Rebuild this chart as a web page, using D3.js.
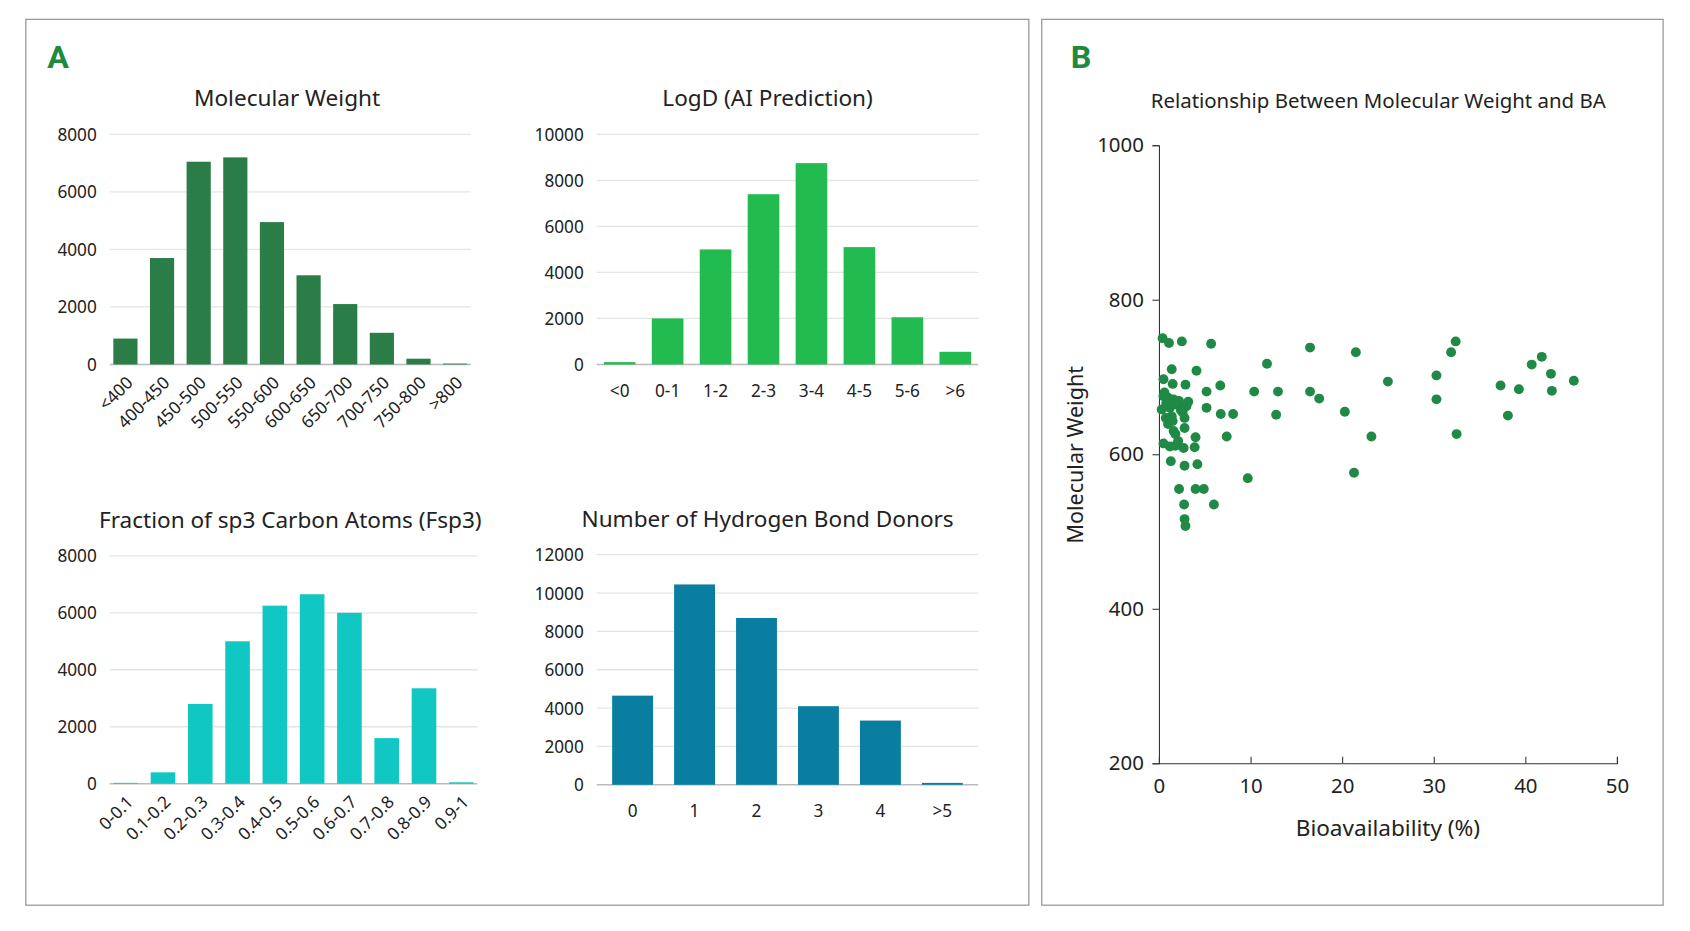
<!DOCTYPE html>
<html><head><meta charset="utf-8">
<script src="https://cdn.jsdelivr.net/npm/d3@7/dist/d3.min.js"></script>
<style>
body{margin:0;background:#fff}
text{font-family:"Noto Sans",sans-serif;fill:#222}
</style></head><body>
<svg id="c" width="1690" height="931" viewBox="0 0 1568 866"></svg>
<script>
var mwCats = ['<400','400-450','450-500','500-550','550-600','600-650','650-700','700-750','750-800','>800']
var mwVals = [900, 3700, 7050, 7200, 4950, 3100, 2100, 1100, 200, 30]
var logdCats = ['<0','0-1','1-2','2-3','3-4','4-5','5-6','>6']
var logdVals = [100, 2000, 5000, 7400, 8750, 5100, 2050, 550]
var fspCats = ['0-0.1','0.1-0.2','0.2-0.3','0.3-0.4','0.4-0.5','0.5-0.6','0.6-0.7','0.7-0.8','0.8-0.9','0.9-1']
var fspVals = [30, 400, 2800, 5000, 6250, 6650, 6000, 1600, 3350, 50]
var hbdCats = ['0','1','2','3','4','>5']
var hbdVals = [4650, 10450, 8700, 4100, 3350, 100]

// scatter: bioavailability (%), molecular weight
var baVals = [0.4,1.1,2.5,5.7,1.4,4.1,0.5,1.5,2.9,6.7,5.2,10.4,13,11.8,16.5,21.5,16.5,17.5,25,30.3,30.3,32.4,31.9,32.5,37.3,39.3,40.7,41.8,42.8,42.9,45.3,38.1,23.2,20.3,21.3,12.8,8.1,6.75,5.2,7.4,9.7,
  0.5,1,1.6,2.2,3,0.3,1.2,2,2.6,0.75,1.4,2.8,1,1.6,1.8,2.8,0.5,1.2,1.8,2.7,3.9,4,1.3,2.8,4.2,2.2,4,4.9,2.75,6,2.8,2.9,
  0.8,1.9,2.4,0.6,1.5,3.2,2.1]
var mwPts = [750,744,746,743,710,708,697,691,690,689,681,681,681,717,738,732,681,672,694,702,671,746,732,626,689,684,716,726,704,682,695,650,623,655,576,651,652,652,660,623,569,
  675,673,671,669,662,658,660,664,654,647,649,647,639,630,626,634,614,610,611,608,609,622,591,585,587,555,555,555,535,535,516,507,
  666,668,657,680,643,668,617]

var svg = d3.select('#c')

// panel frames
svg.append('rect').attr('x', 22).attr('y', 18).attr('width', 933).attr('height', 824)
  .attr('fill', 'none').attr('stroke', '#999').attr('stroke-width', 1.2)
svg.append('rect').attr('x', 967).attr('y', 18).attr('width', 578).attr('height', 824)
  .attr('fill', 'none').attr('stroke', '#999').attr('stroke-width', 1.2)
svg.append('text').attr('x', 42).attr('y', 63).text('A')
  .style('font-family', 'Roboto, sans-serif').style('font-weight', 'bold').style('font-size', '30px').style('fill', '#1e8a40')
svg.append('text').attr('x', 994).attr('y', 63).text('B')
  .style('font-family', 'Roboto, sans-serif').style('font-weight', 'bold').style('font-size', '30px').style('fill', '#1e8a40')

function bars (o) {
  var g = svg.append('g')
  var x = d3.scaleBand().domain(o.cats).range([o.x0, o.x1]).paddingInner(0.34).paddingOuter(o.outer)
  var y = d3.scaleLinear().domain([0, o.max]).range([o.y0, o.y1])
  var ticks = d3.range(0, o.max + 1, o.step)
  g.selectAll('line.grid').data(ticks).enter().append('line')
    .attr('x1', o.x0).attr('x2', o.x1).attr('y1', y).attr('y2', y)
    .attr('stroke', d => d === 0 ? '#bbb' : '#e4e4e4').attr('stroke-width', d => d === 0 ? 1.5 : 1.2)
  g.selectAll('text.yt').data(ticks).enter().append('text')
    .attr('x', o.x0 - 12).attr('y', d => y(d) + 6).attr('text-anchor', 'end')
    .style('font-size', '16px').text(d => d)
  g.selectAll('rect').data(o.vals).enter().append('rect')
    .attr('x', (d, i) => x(o.cats[i])).attr('width', x.bandwidth())
    .attr('y', d => y(d)).attr('height', d => o.y0 - y(d)).attr('fill', o.color)
  g.append('text').attr('x', o.tx).attr('y', o.y1 - 26).attr('text-anchor', 'middle')
    .style('font-size', '21px').text(o.title)
  var xl = g.selectAll('text.xt').data(o.cats).enter().append('text').style('font-size', '16px').text(d => d)
  if (o.rotate) {
    xl.attr('text-anchor', 'end')
      .attr('transform', d => 'translate(' + (x(d) + x.bandwidth() / 2 + 8) + ',' + (o.y0 + 18) + ') rotate(-45)')
  } else {
    xl.attr('text-anchor', 'middle').attr('x', d => x(d) + x.bandwidth() / 2).attr('y', o.y0 + 30)
  }
}

bars({ cats: mwCats, vals: mwVals, max: 8000, step: 2000, x0: 100, x1: 436, y0: 339, y1: 125, outer: 0.1, tx: 265, color: '#2b7d47', title: 'Molecular Weight', rotate: true })
bars({ cats: logdCats, vals: logdVals, max: 10000, step: 2000, x0: 553, x1: 908, y0: 339, y1: 125, outer: 0.15, tx: 712, color: '#22bb4f', title: 'LogD (AI Prediction)', rotate: false })
bars({ cats: fspCats, vals: fspVals, max: 8000, step: 2000, x0: 100, x1: 442, y0: 729, y1: 517, outer: 0.1, tx: 268, color: '#10c7c3', title: 'Fraction of sp3 Carbon Atoms (Fsp3)', rotate: true })
bars({ cats: hbdCats, vals: hbdVals, max: 12000, step: 2000, x0: 553, x1: 908, y0: 730, y1: 516, outer: 0.25, tx: 712, color: '#0a7ea1', title: 'Number of Hydrogen Bond Donors', rotate: false })

// scatter
var sx = d3.scaleLinear().domain([0, 50]).range([1076, 1502])
var sy = d3.scaleLinear().domain([200, 1000]).range([710, 135])
var sg = svg.append('g')
sg.append('g').attr('transform', 'translate(0,710)')
  .call(d3.axisBottom(sx).ticks(5).tickSize(-6).tickPadding(14))
sg.append('g').attr('transform', 'translate(1076,0)')
  .call(d3.axisLeft(sy).tickValues([200, 400, 600, 800, 1000]).tickFormat(d3.format('d')).tickSize(6).tickPadding(8))
sg.selectAll('.domain').attr('stroke', '#333')
sg.selectAll('.tick line').attr('stroke', '#333')
sg.selectAll('.tick text').style('font-size', '19px').style('fill', '#222')
  .style('font-family', '"Noto Sans", sans-serif')
sg.selectAll('circle').data(baVals).enter().append('circle')
  .attr('cx', d => sx(d)).attr('cy', (d, i) => sy(mwPts[i])).attr('r', 4.6).attr('fill', '#1f8a45')
svg.append('text').attr('x', 1280).attr('y', 100).attr('text-anchor', 'middle')
  .style('font-size', '19px').text('Relationship Between Molecular Weight and BA')
svg.append('text').attr('x', 1289).attr('y', 778).attr('text-anchor', 'middle')
  .style('font-size', '21px').text('Bioavailability (%)')
svg.append('text').attr('transform', 'translate(1005,423) rotate(-90)').attr('text-anchor', 'middle')
  .style('font-size', '20px').text('Molecular Weight')
</script></body></html>
